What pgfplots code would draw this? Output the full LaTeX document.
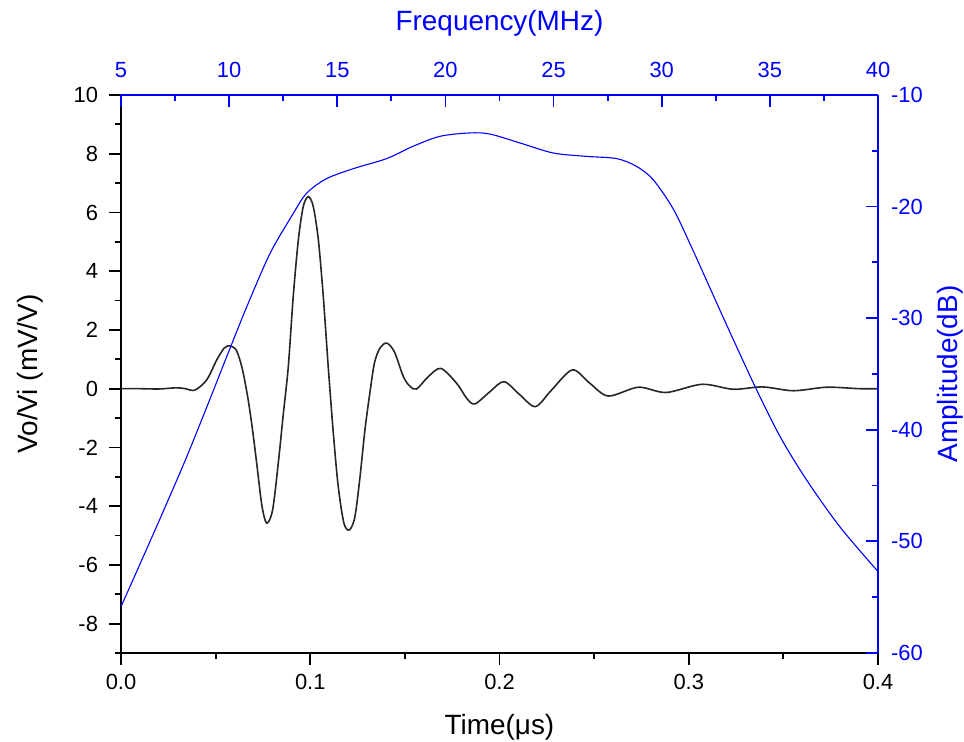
\documentclass[border=0pt]{standalone}
\usepackage{fontspec}
\setmainfont{Liberation Sans}
\usepackage{pgfplots}
\pgfplotsset{compat=1.18}

\begin{document}
\begin{tikzpicture}
\pgfplotsset{
  every axis/.append style={
    width=378.5bp,height=279bp,scale only axis,
    /pgf/number format/assume math mode=true,
    tick label style={font=\fontsize{11}{13}\selectfont},
    label style={font=\fontsize{14}{16}\selectfont},
    major tick length=6bp,minor tick length=3bp,
    axis line style={line width=1bp},
    every tick/.style={line width=0.9bp},
  }
}
% time signal
\begin{axis}[
  xmin=0,xmax=0.4,ymin=-9,ymax=10,
  axis x line*=bottom,axis y line*=left,
  tick align=outside,
  xtick={0,0.1,0.2,0.3,0.4},xticklabels={0.0,0.1,0.2,0.3,0.4},
  minor xtick={0.05,0.15,0.25,0.35},
  ytick={-8,-6,-4,-2,0,2,4,6,8,10},
  minor ytick={-9,-7,-5,-3,-1,1,3,5,7,9},
  tick style={black},
  yticklabel style={xshift=-2bp},
  xticklabel style={yshift=-1bp},
  xlabel={Time(μs)},ylabel={Vo/Vi (mV/V)},
  xlabel style={at={(axis description cs:0.5,-0.1326)},anchor=center},
  ylabel style={at={(axis description cs:-0.1202,0.5)},anchor=center},
]
\addplot[black!85,line width=0.8bp,smooth] coordinates {
(0,0)(0.01,0)(0.02,-0.01)(0.0294,0.03)(0.034,0)(0.039,-0.05)(0.0453,0.30)(0.0506,0.98)
(0.0545,1.38)(0.0576,1.46)(0.061,1.3)(0.064,0.7)(0.067,-0.3)(0.0695,-1.4)(0.072,-2.7)
(0.0745,-4.0)(0.077,-4.58)(0.0801,-4.13)(0.0831,-2.54)(0.0858,-0.84)(0.0884,0.75)(0.091,3.13)
(0.0937,5.06)(0.0963,6.2)(0.099,6.54)(0.1016,6.2)(0.1043,5.06)(0.1069,3.13)(0.1095,0.75)
(0.1122,-1.52)(0.1148,-3.34)(0.1178,-4.58)(0.1207,-4.81)(0.1236,-4.36)(0.1263,-3.0)
(0.1289,-1.4)(0.1316,-0.1)(0.134,0.9)(0.137,1.4)(0.1405,1.55)(0.1445,1.25)(0.1492,0.41)
(0.1527,0.08)(0.1562,-0.01)(0.1624,0.41)(0.169,0.69)(0.1774,0.18)(0.1827,-0.33)(0.187,-0.52)
(0.195,-0.1)(0.2024,0.24)(0.2108,-0.21)(0.219,-0.61)(0.2276,-0.04)(0.2385,0.64)(0.2478,0.18)
(0.2575,-0.25)(0.2734,0.05)(0.288,-0.13)(0.307,0.15)(0.3235,-0.02)(0.339,0.06)(0.3553,-0.07)
(0.3729,0.05)(0.39,0)(0.4,0)};
\end{axis}
% spectrum
\begin{axis}[
  xmin=5,xmax=40,ymin=-60,ymax=-10,
  axis x line*=top,axis y line*=right,
  tick align=inside,
  xtick={5,10,...,40},minor xtick={7.5,12.5,...,37.5},
  ytick={-60,-50,...,-10},minor ytick={-55,-45,...,-15},
  axis line style={blue},tick style={blue},
  tick label style={blue},label style={blue},
  xticklabel style={yshift=5bp},
  yticklabel style={xshift=3bp},
  xlabel={Frequency(MHz)},ylabel={Amplitude(dB)},
  xlabel style={at={(axis description cs:0.5,1.129)},anchor=center},
  ylabel style={at={(axis description cs:1.0951,0.5)},anchor=center},
]
\addplot[blue,line width=0.55bp,smooth] coordinates {
(5,-55.85)(6,-51.5)(7,-47.1)(8,-42.6)(9,-37.8)(10,-32.9)(10.81,-29.0)
(11.89,-24.2)(12.97,-20.6)(13.58,-18.8)(14.5,-17.5)(15.74,-16.6)(17.28,-15.7)(18.5,-14.6)
(19.75,-13.7)(21.13,-13.4)(22.06,-13.5)(23.45,-14.3)(24.99,-15.2)(26.53,-15.5)(27.92,-15.7)
(28.84,-16.4)(29.61,-17.6)(30.53,-20.2)(31.3,-23.3)(32.07,-26.6)(33.0,-30.6)(34.31,-36.1)
(35.47,-40.6)(36.7,-44.5)(38.24,-48.7)(40,-52.7)};
\end{axis}
\pgfresetboundingbox
\path[use as bounding box] (-60.5bp,-44.5bp) rectangle (421.5bp,326.5bp);
\end{tikzpicture}
\end{document}
